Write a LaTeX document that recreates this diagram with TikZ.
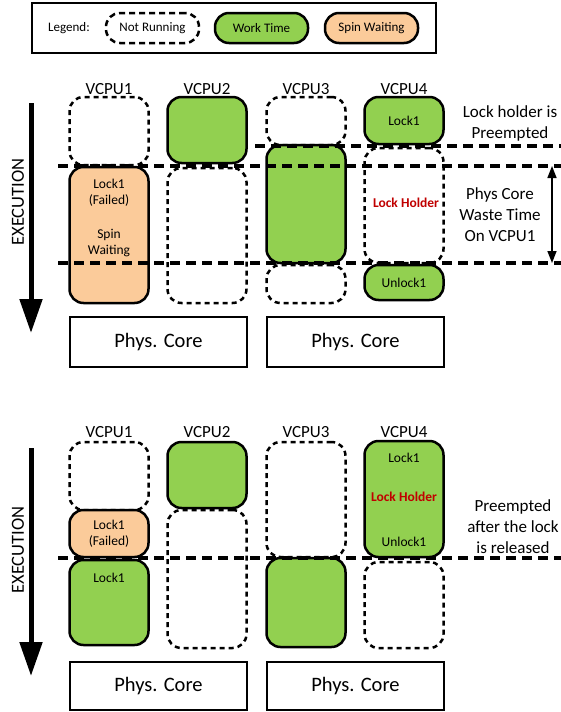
\documentclass[tikz,border=0pt]{standalone}
\usepackage{fontspec}
\setmainfont{Carlito}
\usetikzlibrary{arrows.meta,positioning}
\definecolor{worktime}{HTML}{92D050}
\definecolor{spinwait}{HTML}{FBCB9A}
\definecolor{holder}{HTML}{C00000}

\tikzset{
  vbox/.style={draw, rounded corners=14pt, line width=2.5pt, minimum width=79pt, inner sep=0pt, font=\fontsize{13.5}{16}\selectfont, align=center},
  idle/.style={vbox, dash pattern=on 5pt off 4pt},
  work/.style={vbox, fill=worktime},
  spin/.style={vbox, fill=spinwait},
  core/.style={draw, line width=2.5pt, minimum width=177pt, inner sep=0pt, font=\fontsize{20.5}{22}\selectfont},
  small/.style={font=\fontsize{13.5}{16}\selectfont, align=center, inner sep=0pt},
  legtext/.style={font=\fontsize{13}{15}\selectfont},
  vlabel/.style={font=\fontsize{17}{19}\selectfont, inner sep=0pt},
  note/.style={font=\fontsize{17}{21}\selectfont, align=center, inner sep=0pt},
  sep/.style={line width=4pt, dash pattern=on 10pt off 6pt},
  exec/.style={line width=5pt, -{Triangle[width=22pt,length=34pt]}},
}

\begin{document}
\begin{tikzpicture}[x=1pt, y=-1pt]
\useasboundingbox (0,0) rectangle (561,712);

% legend
\node (legend) at (234,28) [draw, line width=1.5pt, minimum width=404pt, minimum height=50pt] {};
\node (legtxt) at (69,28) [legtext, inner sep=0pt] {Legend:};
\node (legidle) at (152.5,28) [idle, legtext, minimum width=93pt, minimum height=30pt, dash pattern=on 6pt off 4pt] {Not Running};
\node (legwork) at (261.5,28) [work, legtext, minimum width=93pt, minimum height=30pt] {Work Time};
\node (legspin) at (371.5,28) [spin, legtext, minimum width=93pt, minimum height=30pt] {Spin Waiting};

%%% upper case: lock holder preempted
\node (v1a) at (109,131) [idle, minimum height=68pt] {};
\node (v1b) at (109,235) [spin, minimum height=136pt] {};
\node (v1fail) at (109,192.5) [small] {Lock1\\(Failed)};
\node (v1spin) at (109,243.5) [small] {Spin\\Waiting};

\node (v2a) at (207,130) [work, minimum height=66pt] {};
\node (v2b) at (207,235.5) [idle, minimum height=135pt] {};

\node (v3a) at (306,121) [idle, minimum height=48pt] {};
\node (v3b) at (306,204) [work, minimum height=118pt] {};
\node (v3c) at (306,284) [idle, minimum height=38pt] {};

\node (v4a) at (404,120.5) [work, minimum height=47pt] {Lock1};
\node (v4b) at (404,205.5) [idle, minimum height=115pt] {};
\node (v4hold) at (406,203) [small, text=holder, font=\fontsize{13.5}{16}\selectfont\bfseries] {Lock Holder};
\node (v4c) at (404,282.5) [work, minimum height=35pt] {Unlock1};

\node (t1) at (109,89) [vlabel] {VCPU1};
\node (t2) at (207,89) [vlabel] {VCPU2};
\node (t3) at (306,89) [vlabel] {VCPU3};
\node (t4) at (404,89) [vlabel] {VCPU4};

\node (core1) at (158.5,342) [core, minimum height=50pt] {Phys. Core};
\node (core2) at (355.5,342) [core, minimum height=50pt] {Phys. Core};

\node (preempt) at (510,123.5) [note] {Lock holder is\\Preempted};
\node (waste) at (500,215) [note] {Phys Core\\Waste Time\\On VCPU1};

\node (exlab1) at (18,202) [font=\fontsize{18.5}{20}\selectfont, inner sep=0pt, rotate=90] {EXECUTION};
\coordinate (ex1s) at (31,103);
\coordinate (ex1e) at (31,333);
\draw[exec] (ex1s) -- (ex1e);

\coordinate (s1w) at (255,146);
\coordinate (s1e) at (561,146);
\coordinate (s2w) at (58,166);
\coordinate (s2e) at (561,166);
\coordinate (s3w) at (58,263);
\coordinate (s3e) at (561,263);
\draw[sep] (s1w) -- (s1e);
\draw[sep] (s2w) -- (s2e);
\draw[sep] (s3w) -- (s3e);

\coordinate (wt) at (552,166);
\coordinate (wb) at (552,263);
\draw[line width=1.5pt, {Triangle[width=9pt,length=12pt]}-{Triangle[width=9pt,length=12pt]}] (wt) -- (wb);

%%% lower case: preempted after release
\node (w1a) at (109,476) [idle, minimum height=68pt] {};
\node (w1b) at (109,533.5) [spin, minimum height=47pt] {Lock1\\(Failed)};
\node (w1c) at (109,602.5) [work, minimum height=85pt] {};
\node (w1lock) at (109,578) [small] {Lock1};

\node (w2a) at (207,475) [work, minimum height=66pt] {};
\node (w2b) at (207,579) [idle, minimum height=138pt] {};

\node (w3a) at (306,499.5) [idle, minimum height=115pt] {};
\node (w3b) at (306,602.5) [work, minimum height=89pt] {};

\node (w4a) at (404,499) [work, minimum height=116pt] {};
\node (w4lock) at (404,458) [small] {Lock1};
\node (w4hold) at (404,497) [small, text=holder, font=\fontsize{13.5}{16}\selectfont\bfseries] {Lock Holder};
\node (w4unlock) at (404,542) [small] {Unlock1};
\node (w4b) at (404,605) [idle, minimum height=86pt] {};

\node (u1) at (109,432) [vlabel] {VCPU1};
\node (u2) at (207,432) [vlabel] {VCPU2};
\node (u3) at (306,432) [vlabel] {VCPU3};
\node (u4) at (404,432) [vlabel] {VCPU4};

\node (core3) at (158.5,686) [core, minimum height=48pt] {Phys. Core};
\node (core4) at (355.5,686) [core, minimum height=48pt] {Phys. Core};

\node (release) at (513,527) [note] {Preempted\\after the lock\\is released};

\node (exlab2) at (18,550) [font=\fontsize{18.5}{20}\selectfont, inner sep=0pt, rotate=90] {EXECUTION};
\coordinate (ex2s) at (31,448);
\coordinate (ex2e) at (31,676);
\draw[exec] (ex2s) -- (ex2e);

\coordinate (s4w) at (58,558);
\coordinate (s4e) at (561,558);
\draw[sep] (s4w) -- (s4e);
\end{tikzpicture}
\end{document}
